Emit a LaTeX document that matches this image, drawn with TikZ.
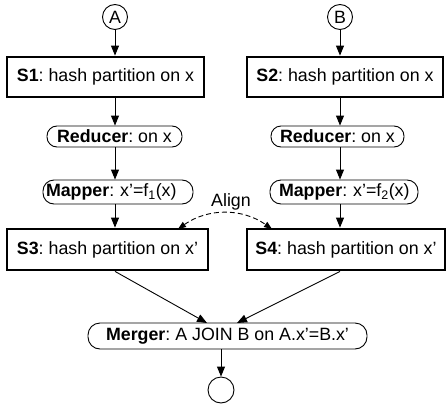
\documentclass[tikz,border=0pt]{standalone}
\usepackage{fontspec}
\setmainfont{Liberation Sans}
\usetikzlibrary{arrows.meta,calc}
\frenchspacing
\begin{document}
\begin{tikzpicture}[x=1pt,y=-1pt,
  every node/.style={font=\fontsize{17.8}{20}\selectfont, inner sep=0pt},
  sbox/.style={draw, line width=2.8pt, minimum height=40pt},
  pill/.style={draw, line width=0.9pt, rounded corners=10pt, minimum height=21pt},
  conn/.style={circle, draw, line width=0.9pt, minimum size=25pt},
  arr/.style={line width=0.9pt, -{Triangle[length=10pt,width=8pt]}},
  darr/.style={line width=0.9pt, dashed, dash pattern=on 5pt off 3pt, {Triangle[length=8pt,width=6pt]}-{Triangle[length=8pt,width=6pt]}}
]
\useasboundingbox (0,0) rectangle (446,404);
\node[conn] (A) at (115,17) {A};
\node[conn] (B) at (340,17) {B};
\node[sbox, minimum width=197pt] (S1) at (105.5,77) {\textbf{S1}: hash partition on x};
\node[sbox, minimum width=196pt] (S2) at (345,77) {\textbf{S2}: hash partition on x};
\node[pill, minimum width=135pt] (R1) at (114.5,136.5) {\textbf{Reducer}: on x};
\node[pill, minimum width=133pt] (R2) at (337.5,136.5) {\textbf{Reducer}: on x};
\node[pill, minimum width=150pt, minimum height=24pt, rounded corners=11pt, text width=144pt, align=left] (M1) at (118,192) {\textbf{Mapper}: x’=f\textsubscript{1}(x)};
\node[pill, minimum width=148pt, minimum height=24pt, rounded corners=11pt, text width=142pt, align=left] (M2) at (344,192) {\hspace*{6pt}\textbf{Mapper}: x’=f\textsubscript{2}(x)};
\node[sbox, minimum width=201pt, minimum height=41pt] (S3) at (107.5,249.5) {\textbf{S3}: hash partition on x’};
\node[sbox, minimum width=198pt, minimum height=41pt] (S4) at (346,249.5) {\textbf{S4}: hash partition on x’};
\node[pill, minimum width=279pt, minimum height=26pt, rounded corners=12pt] (Mg) at (227.5,336) {\textbf{Merger}: A JOIN B on A.x’=B.x’};
\node[conn, minimum size=26pt] (E) at (221,390) {};
\node (al) at (231,202) {Align};

\draw[arr] (A) -- (A |- S1.north);
\draw[arr] (A |- S1.south) -- (A |- R1.north);
\draw[arr] (A |- R1.south) -- (A |- M1.north);
\draw[arr] (A |- M1.south) -- (A |- S3.north);
\draw[arr] (B) -- (B |- S2.north);
\draw[arr] (B |- S2.south) -- (B |- R2.north);
\draw[arr] (B |- R2.south) -- (B |- M2.north);
\draw[arr] (B |- M2.south) -- (B |- S4.north);
\coordinate (m1) at (207,323);
\coordinate (m2) at (237,323);
\coordinate (d1) at (178,229);
\coordinate (d2) at (272,229);
\draw[arr] (A |- S3.south) -- (m1);
\draw[arr] (B |- S4.south) -- (m2);
\draw[arr] (E |- Mg.south) -- (E);
\draw[darr] (d1) to[bend left=35] (d2);
\end{tikzpicture}
\end{document}
